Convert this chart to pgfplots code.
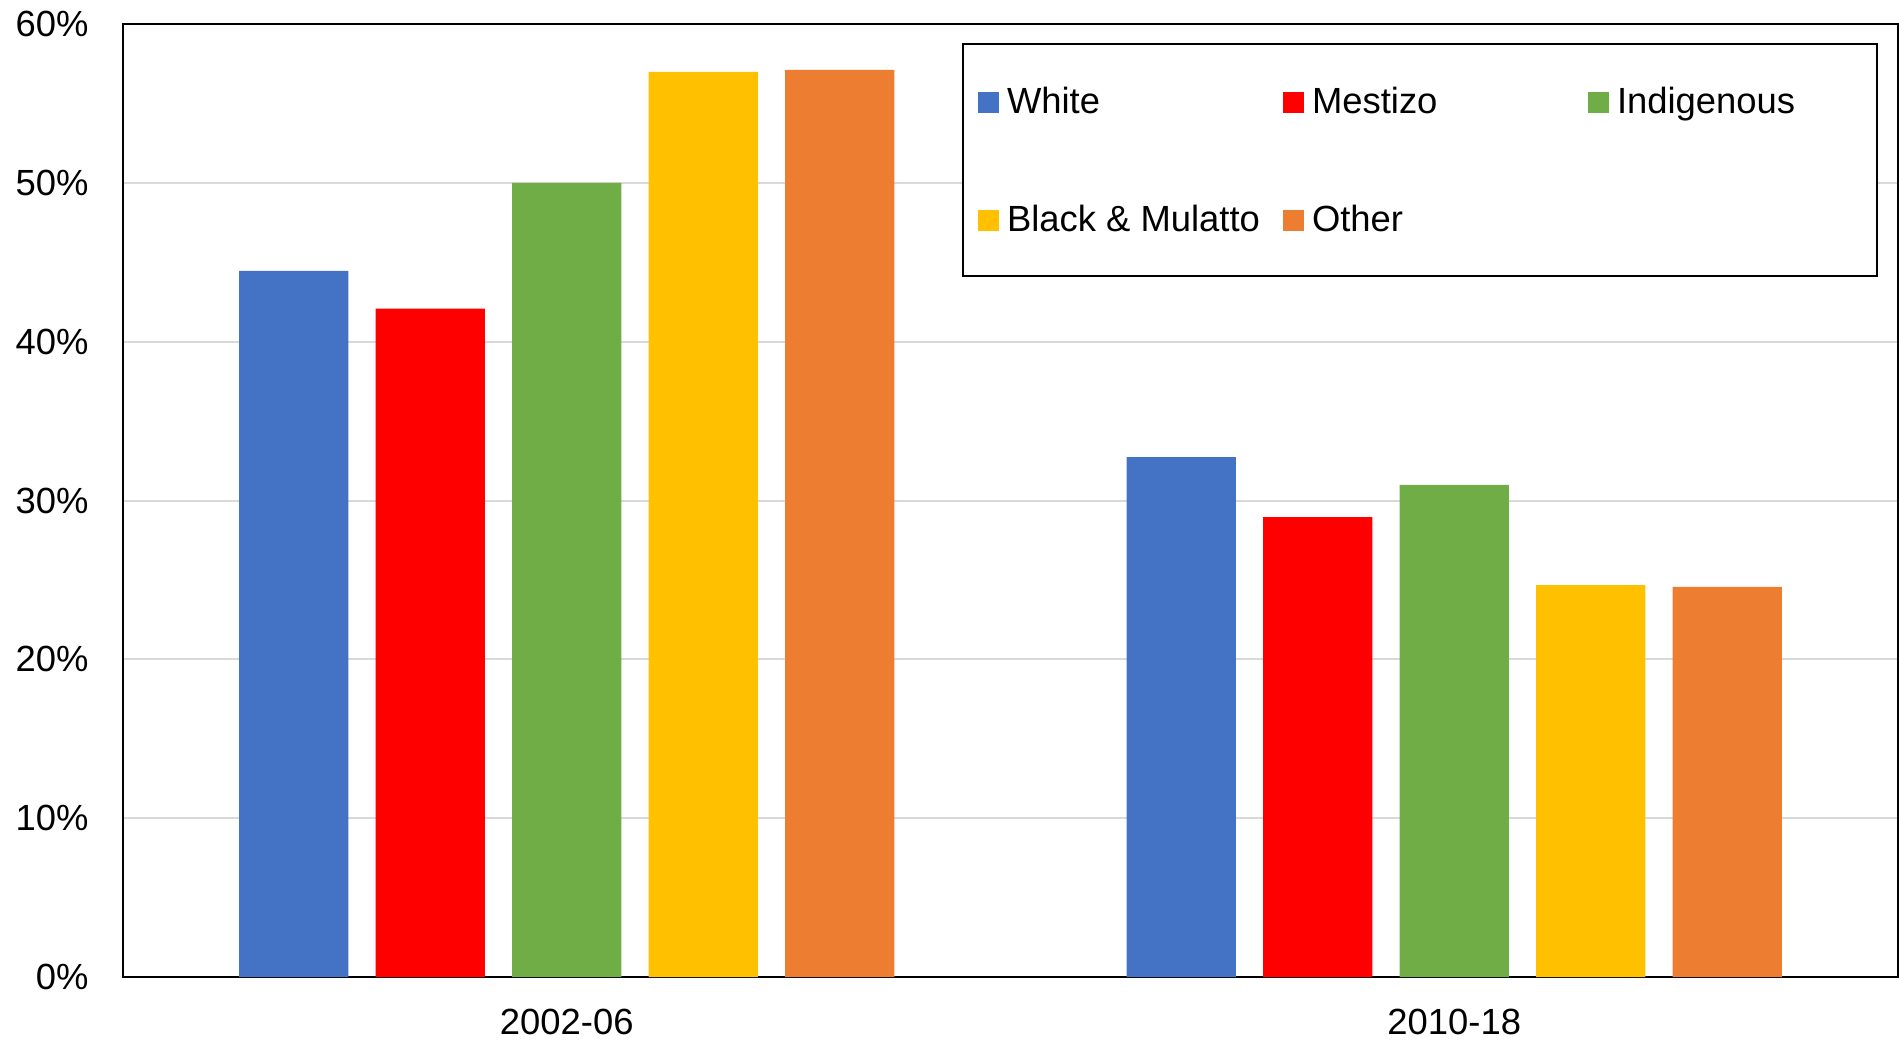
\documentclass[border=0pt]{standalone}
\usepackage{fontspec}
\setmainfont{Liberation Sans}
\usepackage{pgfplots}
\pgfplotsset{compat=1.18}
\definecolor{cWhite}{HTML}{4472C4}
\definecolor{cMestizo}{HTML}{FF0000}
\definecolor{cIndig}{HTML}{70AD47}
\definecolor{cBlack}{HTML}{FFC000}
\definecolor{cOther}{HTML}{ED7D31}
\definecolor{gridgray}{HTML}{D9D9D9}
\newcommand{\chartfont}{\fontsize{18.2pt}{22pt}\selectfont}
\begin{document}
\begin{tikzpicture}
\path[use as bounding box] (-61.5pt,-32pt) rectangle (888pt,488.5pt);
\begin{axis}[
  at={(0,0)}, anchor=south west,
  scale only axis, width=887.5pt, height=476.5pt,
  ybar, bar width=0.1233,
  xmin=-0.5, xmax=1.5, ymin=0, ymax=60,
  xtick={0,1}, xticklabels={2002-06,2010-18},
  ytick={0,10,20,30,40,50,60},
  yticklabels={0\%,10\%,20\%,30\%,40\%,50\%,60\%},
  major tick length=0pt,
  ymajorgrids, major grid style={draw=gridgray, line width=1pt},
  axis line style={line width=1pt},
  tick label style={font=\chartfont, inner sep=0pt},
  yticklabel style={anchor=east, xshift=-17pt},
  xticklabel style={anchor=north, yshift=-16pt},
  legend columns=3,
  legend style={at={(0.4727,0.98006)}, anchor=north west, draw=black, line width=1pt,
    inner xsep=7.5pt, inner ysep=20pt, font=\chartfont, row sep=42pt,
    /tikz/every odd column/.append style={column sep=4pt},
    nodes={inner sep=0pt, text height=14.5pt, text depth=2.5pt}},
  legend cell align=left,
  legend image code/.code={\fill[#1] (0pt,-6pt) rectangle (10.5pt,4.5pt);},
]
\addplot[fill=cWhite, draw=none, bar shift=-0.3076] coordinates {(0,44.46) (1,32.73)};
\addlegendentry{\makebox[138pt][l]{White}}
\addplot[fill=cMestizo, draw=none, bar shift=-0.1538] coordinates {(0,42.08) (1,28.95)};
\addlegendentry{\makebox[138pt][l]{Mestizo}}
\addplot[fill=cIndig, draw=none, bar shift=0] coordinates {(0,50.0) (1,30.98)};
\addlegendentry{\makebox[122.5pt][l]{Indigenous}}
\addplot[fill=cBlack, draw=none, bar shift=0.1538] coordinates {(0,56.99) (1,24.67)};
\addlegendentry{\makebox[138pt][l]{Black \& Mulatto}}
\addplot[fill=cOther, draw=none, bar shift=0.3076] coordinates {(0,57.12) (1,24.56)};
\addlegendentry{\makebox[138pt][l]{Other}}
\end{axis}
\end{tikzpicture}
\end{document}
